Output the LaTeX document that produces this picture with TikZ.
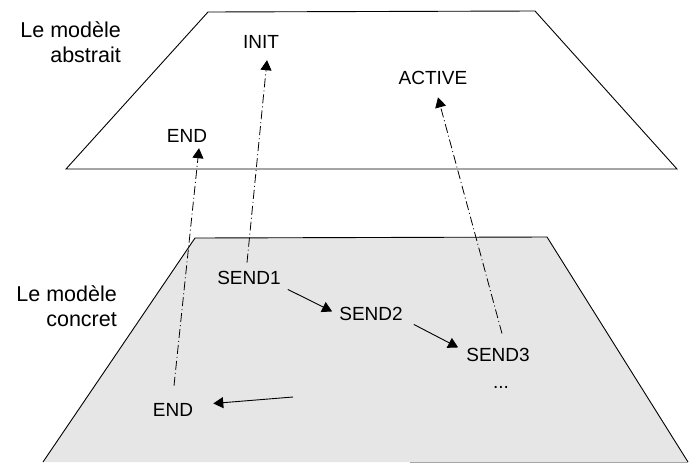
\documentclass[tikz,border=0pt]{standalone}
\usepackage{fontspec}
\setmainfont{Liberation Sans}
\usetikzlibrary{arrows.meta,calc}
\definecolor{planegray}{HTML}{E6E6E6}
\tikzset{
  lbl/.style={inner sep=0pt, anchor=base, font=\fontsize{19}{22}\selectfont},
  side/.style={inner sep=0pt, anchor=base east, align=right, font=\fontsize{21.5}{25}\selectfont},
  dd/.style={line width=0.8pt, dash pattern=on 9pt off 3pt on 1pt off 3pt, -{Triangle[length=10pt,width=11pt]}},
  arr/.style={line width=0.9pt, -{Triangle[length=10pt,width=11pt]}},
  edge/.style={line width=0.9pt}
}
\begin{document}
\begin{tikzpicture}[x=1pt,y=-1pt]
\useasboundingbox (0,0) rectangle (690,464);
% top plane
\draw[edge, fill=white] (208,12) -- (535,11) -- (677,169) -- (66,169) -- cycle;
% bottom plane
\fill[planegray] (195,238) -- (547,237) -- (688,462) -- (43,462) -- cycle;
\draw[edge] (43,462) -- (195,238) -- (547,237) -- (688,462);
\draw[line width=0.9pt, gray!70] (410,462) -- (688,462);
% side labels
\node[side] (abs) at (121,62.7) {Le modèle\\abstrait};
\node[side] (con) at (117,326) {Le modèle\\concret};
% abstract nodes
\node[lbl] (init) at (261,48) {INIT};
\node[lbl] (endA) at (187,142) {END};
\node[lbl] (active) at (433,84) {ACTIVE};
% concrete nodes
\node[lbl] (send1) at (249,284) {SEND1};
\node[lbl] (send2) at (371,320) {SEND2};
\node[lbl] (send3) at (498,361) {SEND3};
\node[lbl] (dots) at (501,388) {...};
\node[lbl] (endB) at (173,416) {END};
\coordinate (loose) at (293,397);
% projections
\draw[dd] ($(send1.north)+(-2,-8)$) -- ($(init.south)+(6,12)$);
\draw[dd] ($(endB.north)+(1,-17)$) -- ($(endA.south)+(12,6)$);
\draw[dd] ($(send3.north)+(4,-14)$) -- ($(active.south)+(5,13)$);
% concrete arrows
\draw[arr] ($(send1.east)+(7,12)$) -- ($(send2.west)+(-7,-2)$);
\draw[arr] ($(send2.east)+(11,11)$) -- ($(send3.west)+(-8,-7)$);
\draw[arr] (loose) -- ($(endB.east)+(20,-6)$);
\end{tikzpicture}
\end{document}
